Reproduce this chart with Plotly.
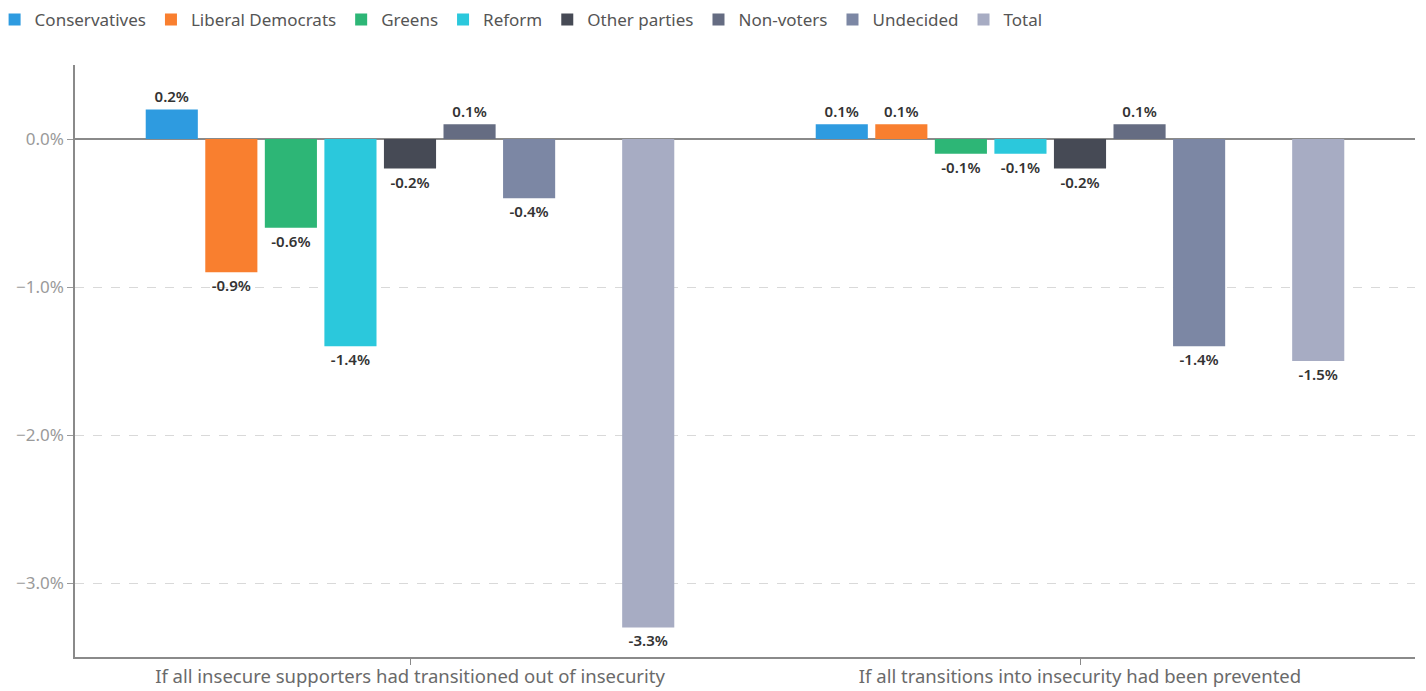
import plotly.graph_objects as go

# Scenario categories on the x axis
scenarios = [
    "If all insecure supporters had transitioned out of insecurity",
    "If all transitions into insecurity had been prevented",
]

# Change in vote share (percentage points) per party, for each scenario
conservatives = [0.2, 0.1]
liberal_democrats = [-0.9, 0.1]
greens = [-0.6, -0.1]
reform = [-1.4, -0.1]
other_parties = [-0.2, -0.2]
non_voters = [0.1, 0.1]
undecided = [-0.4, -1.4]
spacer = [None, None]  # empty slot kept between Undecided and Total
total = [-3.3, -1.5]

series = [
    ("Conservatives", conservatives, "#2e9be0"),
    ("Liberal Democrats", liberal_democrats, "#f97f2f"),
    ("Greens", greens, "#2db676"),
    ("Reform", reform, "#2bc8dc"),
    ("Other parties", other_parties, "#464a55"),
    ("Non-voters", non_voters, "#656c82"),
    ("Undecided", undecided, "#7c87a4"),
    (None, spacer, "#ffffff"),
    ("Total", total, "#a7acc3"),
]

FONT = "'Noto Sans', Lato, sans-serif"

fig = go.Figure()
for name, vals, color in series:
    if name is None:
        fig.add_trace(go.Bar(x=scenarios, y=vals, showlegend=False,
                             hoverinfo="skip", marker_color=color))
        continue
    fig.add_trace(go.Bar(
        x=scenarios, y=vals, name=name,
        marker=dict(color=color, line=dict(width=0)),
        texttemplate="%{y:.1f}%",
        textposition="outside",
        textfont=dict(size=15, color="#333333", family=FONT, weight=600),
        cliponaxis=False,
    ))

fig.update_layout(
    width=1426, height=691,
    barmode="group", bargap=0.20, bargroupgap=0.125,
    plot_bgcolor="white", paper_bgcolor="white",
    margin=dict(l=75, r=11, t=65, b=34, autoexpand=False),
    font=dict(family=FONT, color="#555555"),
    legend=dict(
        orientation="h", x=-0.06, xanchor="left", y=1.076, yanchor="middle",
        font=dict(size=17, color="#555555"),
        tracegroupgap=0, itemsizing="constant",
    ),
)

fig.update_yaxes(
    range=[-3.5, 0.5], dtick=1, tick0=0,
    tickformat=".1f", ticksuffix="%",
    tickfont=dict(size=17, color="#9a9a9a"),
    ticks="outside", ticklen=6, tickcolor="#9a9a9a",
    showgrid=True, gridcolor="#d9d9d9", griddash="dash", gridwidth=1,
    zeroline=True, zerolinecolor="#8a8a8a", zerolinewidth=1.5,
    showline=True, linecolor="#8a8a8a", linewidth=1.5,
)
fig.update_xaxes(
    tickfont=dict(size=18.5, color="#6a6a6a"),
    ticks="outside", ticklen=6, tickcolor="#8a8a8a",
    ticklabelstandoff=-4,
    showline=True, linecolor="#8a8a8a", linewidth=1.5,
    showgrid=False,
)

fig.write_html("out.html")
